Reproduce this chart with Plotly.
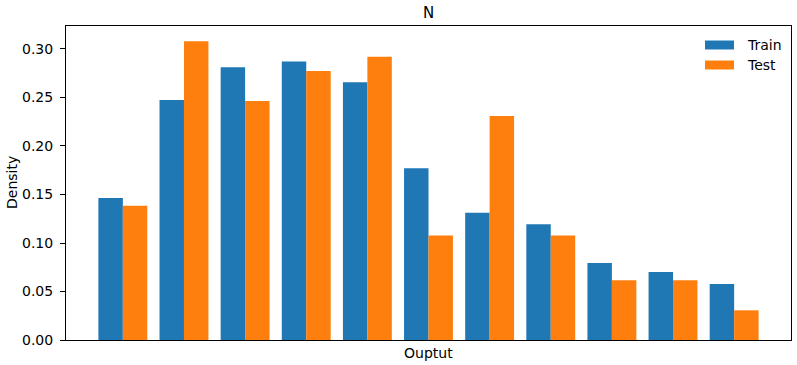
import plotly.graph_objects as go

# bin index for each group
bins = list(range(11))
train = [0.1464, 0.2474, 0.2811, 0.2870, 0.2656, 0.1770, 0.1313, 0.1192, 0.0794, 0.0701, 0.0577]
test = [0.1385, 0.3079, 0.2464, 0.2773, 0.2921, 0.1076, 0.2309, 0.1076, 0.0615, 0.0615, 0.0306]
y_ticks = [0.00, 0.05, 0.10, 0.15, 0.20, 0.25, 0.30]
series = [("Train", train, "#1f77b4"), ("Test", test, "#ff7f0e")]

font = "DejaVu Sans"

fig = go.Figure()
for name, vals, color in series:
    fig.add_trace(go.Bar(x=bins, y=vals, name=name, marker_color=color,
                         marker_line_width=0))

fig.update_layout(
    width=797, height=365,
    margin=dict(l=66, r=6, t=26, b=25),
    paper_bgcolor="white", plot_bgcolor="white",
    font=dict(family=font, size=14, color="black"),
    barmode="group", bargap=0.2, bargroupgap=0,
    showlegend=False,
)
fig.update_xaxes(range=[-0.93, 10.93], showticklabels=False, ticks="",
                 showgrid=False, zeroline=False,
                 showline=True, mirror=True, linecolor="black", linewidth=1)
fig.update_yaxes(range=[0, 0.3237], tickvals=y_ticks, tickformat=".2f",
                 ticks="outside", ticklen=5, tickwidth=1, tickcolor="black",
                 ticklabelstandoff=4,
                 showgrid=False, zeroline=False,
                 showline=True, mirror=True, linecolor="black", linewidth=1)

# matplotlib-style legend: wide swatches with labels, top right
for i, (name, vals, color) in enumerate(series):
    yc = 0.9395 - i * 0.0637
    fig.add_shape(type="rect", xref="paper", yref="paper",
                  x0=0.8814, x1=0.9214, y0=yc - 0.0143, y1=yc + 0.0143,
                  fillcolor=color, line_width=0)
    fig.add_annotation(text=name, xref="paper", yref="paper", x=0.9366, y=yc,
                       xanchor="left", yanchor="middle", showarrow=False,
                       font=dict(size=14))

fig.add_annotation(text="N", xref="paper", yref="paper", x=0.5, y=1,
                   yanchor="middle", yshift=13, showarrow=False,
                   font=dict(size=15))
fig.add_annotation(text="Ouptut", xref="paper", yref="paper", x=0.5, y=0,
                   yanchor="middle", yshift=-13, showarrow=False,
                   font=dict(size=14))
fig.add_annotation(text="Density", xref="paper", yref="paper", x=0, y=0.5,
                   xanchor="center", xshift=-54, textangle=-90, showarrow=False,
                   font=dict(size=14))

# drop the default page margin so the figure sits at the window corner
fig.write_html("out.html", config={"displayModeBar": False},
               post_script="document.body.style.margin='0';")
